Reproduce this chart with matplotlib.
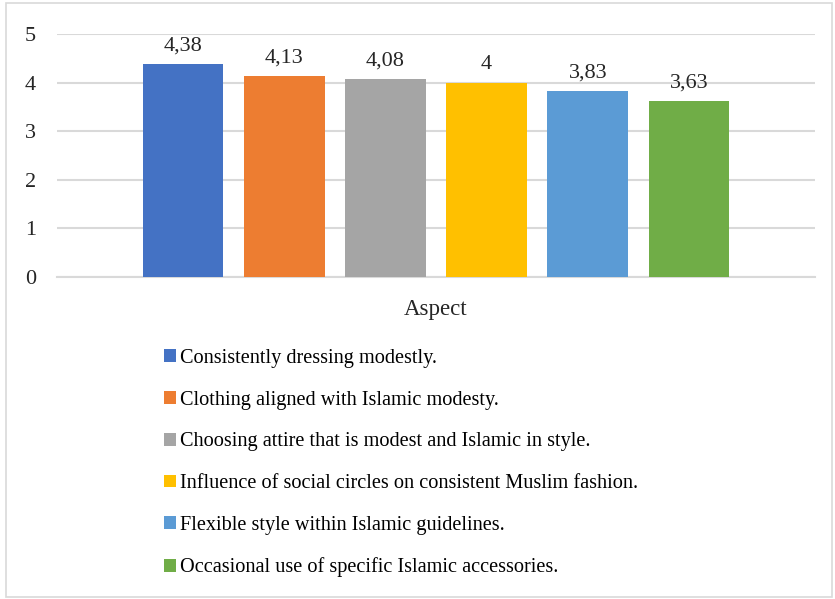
import matplotlib
matplotlib.use("Agg")
import matplotlib.pyplot as plt
from matplotlib.patches import Rectangle, Patch
import numpy as np

plt.rcParams['font.family'] = ['Liberation Serif', 'DejaVu Serif']

category = "Aspect"
series = [
    "Consistently dressing modestly.",
    "Clothing aligned with Islamic modesty.",
    "Choosing attire that is modest and Islamic in style.",
    "Influence of social circles on consistent Muslim fashion.",
    "Flexible style within Islamic guidelines.",
    "Occasional use of specific Islamic accessories.",
]
values = [4.38, 4.13, 4.08, 4.00, 3.83, 3.63]
labels = ["4,38", "4,13", "4,08", "4", "3,83", "3,63"]
colors = ["#4472C4", "#ED7D31", "#A5A5A5", "#FFC000", "#5B9BD5", "#70AD47"]
yticks = [0, 1, 2, 3, 4, 5]

W, H = 835, 599
fig = plt.figure(figsize=(W / 100, H / 100), dpi=100)
fig.patches.append(Rectangle((6 / W, 2 / H), 826 / W, 594 / H, transform=fig.transFigure,
                             fill=False, edgecolor="#D9D9D9", linewidth=1.2))

ax = fig.add_axes([57 / W, 1 - 277 / H, (815 - 57) / W, (277 - 34) / H])
n = len(values)
pos = np.arange(n) - (n - 1) / 2
bars = ax.bar(pos, values, width=0.8, color=colors, zorder=3)
for b, lab in zip(bars, labels):
    ax.text(b.get_x() + b.get_width() / 2, b.get_height() + 0.17, lab,
            ha="center", va="bottom", fontsize=16, color="#262626")

ax.set_xlim(-3.745, 3.745)
ax.set_ylim(0, 5)
ax.set_yticks(yticks)
ax.set_yticklabels([str(t) for t in yticks], fontsize=16, color="#262626")
ax.tick_params(axis="y", length=0, pad=15)
ax.set_xticks([0])
ax.set_xticklabels([category], fontsize=16.5, color="#262626")
ax.tick_params(axis="x", length=0, pad=16)
ax.yaxis.grid(True, color="#D9D9D9", linewidth=1.5, zorder=0)
for s in ["top", "right", "left"]:
    ax.spines[s].set_visible(False)
ax.spines["bottom"].set_color("#D9D9D9")
ax.spines["bottom"].set_linewidth(1.5)

handles = [Patch(facecolor=c, edgecolor="none") for c in colors]
fig.legend(handles, series, loc="upper left", bbox_to_anchor=(164 / W, 1 - 349 / H),
           frameon=False, fontsize=14.6, handlelength=0.6, handleheight=0.6,
           handletextpad=0.17, labelspacing=1.12, borderaxespad=0, borderpad=0)

fig.savefig("out.png", dpi=100)
